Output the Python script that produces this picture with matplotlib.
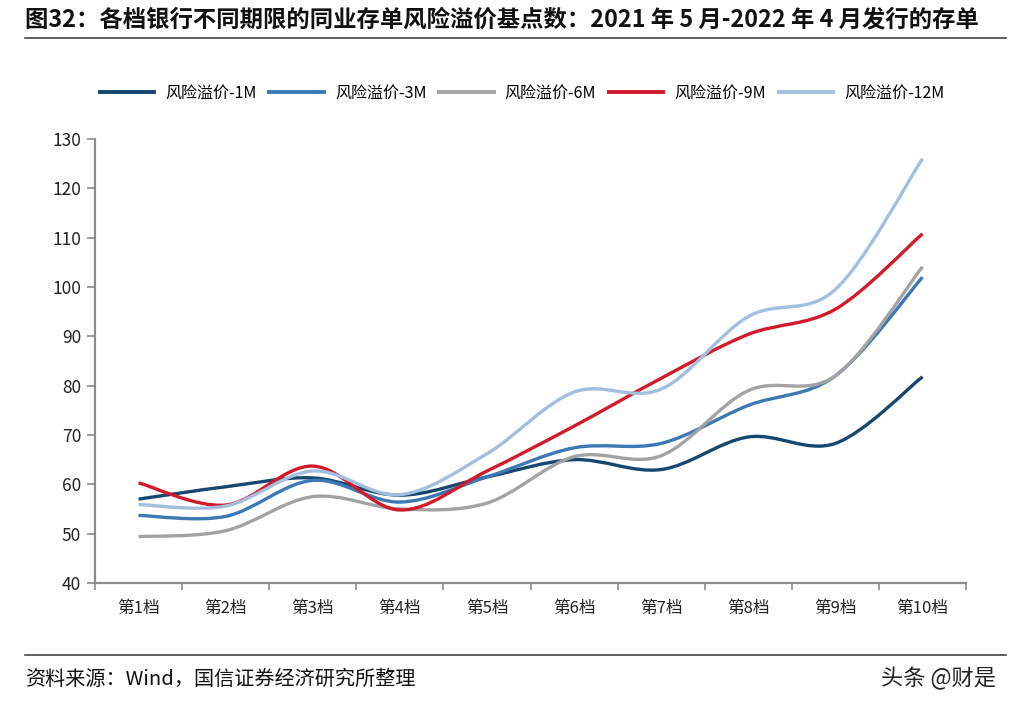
import matplotlib
matplotlib.use("Agg")
import matplotlib.pyplot as plt
from matplotlib.path import Path
from matplotlib.patches import PathPatch
from matplotlib.lines import Line2D
import numpy as np

plt.rcParams['font.family'] = ['Noto Sans CJK SC', 'DejaVu Sans']

categories = ["第1档", "第2档", "第3档", "第4档", "第5档", "第6档", "第7档", "第8档", "第9档", "第10档"]
s1m = [57.0, 59.5, 61.3, 57.8, 61.5, 65.0, 63.0, 69.6, 68.3, 81.8]
s3m = [53.7, 53.5, 60.8, 56.4, 61.5, 67.4, 68.3, 76.0, 82.0, 102.0]
s6m = [49.4, 50.6, 57.5, 55.0, 56.2, 65.6, 65.8, 79.0, 82.0, 104.1]
s9m = [60.3, 55.8, 63.7, 54.8, 62.7, 71.8, 81.5, 90.4, 95.5, 110.8]
s12m = [55.9, 55.6, 62.7, 57.9, 66.2, 78.7, 79.3, 94.0, 99.5, 126.0]
series_names = ["风险溢价-1M", "风险溢价-3M", "风险溢价-6M", "风险溢价-9M", "风险溢价-12M"]
series = [s1m, s3m, s6m, s9m, s12m]
colors = ["#17476F", "#3B78B4", "#A3A3A3", "#D21A2B", "#A2BFDF"]


def smooth_path(xs, ys):
    pts = np.column_stack([xs, ys]).astype(float)
    n = len(pts)
    verts = [pts[0]]
    codes = [Path.MOVETO]
    for i in range(n - 1):
        p0 = pts[i - 1] if i > 0 else pts[i]
        p1 = pts[i]
        p2 = pts[i + 1]
        p3 = pts[i + 2] if i + 2 < n else pts[i + 1]
        c1 = p1 + (p2 - p0) / 6.0
        c2 = p2 - (p3 - p1) / 6.0
        verts += [c1, c2, p2]
        codes += [Path.CURVE4] * 3
    return Path(verts, codes)


fig = plt.figure(figsize=(10.14, 7.10), dpi=100)
ax = fig.add_axes([0.0937, 0.1789, 0.859, 0.6253])

x = np.arange(len(categories))
for vals, c in zip(series, colors):
    p = smooth_path(x, vals)
    ax.add_patch(PathPatch(p, facecolor='none', edgecolor=c, lw=2.4, capstyle='butt', zorder=3))

ax.set_xlim(-0.5, len(categories) - 0.5)
ax.set_ylim(40, 130)
ax.set_yticks(np.arange(40, 131, 10))
ax.set_xticks(x)
ax.set_xticklabels(categories)
ax.set_xticks(np.arange(-0.5, len(categories), 1.0), minor=True)
ax.tick_params(axis='x', which='major', length=0, pad=12, labelsize=12, colors='#222222')
ax.tick_params(axis='x', which='minor', length=5, width=1.2, color='#8C8C8C')
ax.tick_params(axis='y', length=6, width=1.2, color='#8C8C8C', labelsize=12.5, labelcolor='#222222', pad=4)
for s in ['top', 'right']:
    ax.spines[s].set_visible(False)
for s in ['left', 'bottom']:
    ax.spines[s].set_color('#8C8C8C')
    ax.spines[s].set_linewidth(1.6)

handles = [Line2D([0], [0], color=c, lw=2.8) for c in colors]
fig.legend(handles, series_names, loc='center', bbox_to_anchor=(0.515, 0.869), ncol=5,
           frameon=False, fontsize=11.5, handlelength=3.4, handletextpad=0.7, columnspacing=0.8)

fig.text(0.025, 0.972, "图32：各档银行不同期限的同业存单风险溢价基点数：2021 年 5 月-2022 年 4 月发行的存单",
         fontsize=16.8, fontweight='semibold', ha='left', va='center', color='#111111')
fig.add_artist(Line2D([0.025, 0.992], [0.946, 0.946], color='#444444', lw=1.2))
fig.add_artist(Line2D([0.025, 0.992], [0.077, 0.077], color='#444444', lw=1.2))
fig.text(0.025, 0.043, "资料来源：Wind，国信证券经济研究所整理", fontsize=14.5, ha='left', va='center', color='#111111')
fig.text(0.982, 0.045, "头条 @财是", fontsize=16, ha='right', va='center', color='#222222')

fig.savefig("out.png", dpi=100)
